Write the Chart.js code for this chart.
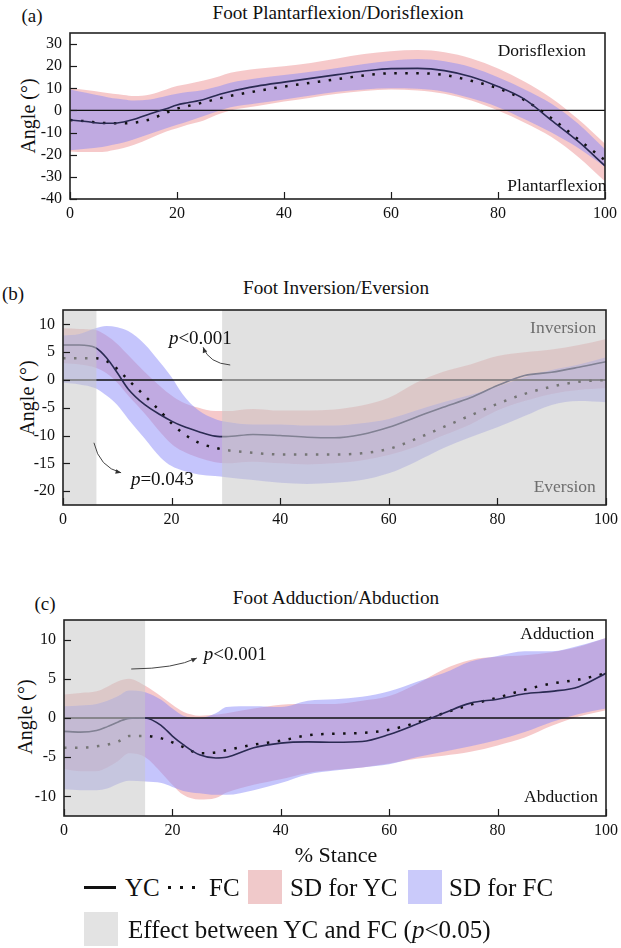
<!DOCTYPE html>
<html><head><meta charset="utf-8">
<script src="https://cdn.jsdelivr.net/npm/chart.js@4.4.0/dist/chart.umd.min.js"></script>
<style>
body{margin:0;background:#fff;width:621px;height:948px;position:relative;overflow:hidden;font-family:"Liberation Serif","Times New Roman",Times,Tinos,"DejaVu Serif","Noto Serif",serif;color:#111;}
canvas{position:absolute;left:0;}
.t{position:absolute;white-space:nowrap;transform:translate(-50%,-50%);line-height:1;}
.title{font-size:19.2px;}
.plab{font-size:19px;}
.ylab{font-size:20px;transform:translate(-50%,-50%) rotate(-90deg);}
.lg{position:absolute;white-space:nowrap;font-size:25px;line-height:1;transform:translateY(-50%);}
.sq{position:absolute;width:34px;height:34px;}
.dot{position:absolute;width:2.5px;height:2.5px;background:#111;}
</style></head><body>

<div class="t plab" style="left:32px;top:15px">(a)</div>
<div class="t title" style="left:338px;top:13px">Foot Plantarflexion/Dorisflexion</div>
<div class="t ylab" style="left:28px;top:116px">Angle (°)</div>
<canvas id="ca" width="621" height="226" style="top:0px"></canvas>

<div class="t plab" style="left:13px;top:293px">(b)</div>
<div class="t title" style="left:336px;top:288px">Foot Inversion/Eversion</div>
<div class="t ylab" style="left:27px;top:398px">Angle (°)</div>
<canvas id="cb" width="621" height="245" style="top:290px"></canvas>

<div class="t plab" style="left:45px;top:603px">(c)</div>
<div class="t title" style="left:336px;top:598px">Foot Adduction/Abduction</div>
<div class="t ylab" style="left:25px;top:717px">Angle (°)</div>
<canvas id="cc" width="621" height="245" style="top:600px"></canvas>
<div class="t" style="left:336px;top:855px;font-size:22px">% Stance</div>

<div style="position:absolute;left:84px;top:886px;width:32px;height:2.5px;background:#111"></div>
<div class="lg" style="left:125px;top:887px">YC</div>
<div class="dot" style="left:168px;top:886px"></div>
<div class="dot" style="left:180px;top:886px"></div>
<div class="dot" style="left:192px;top:886px"></div>
<div class="lg" style="left:209px;top:887px">FC</div>
<div class="sq" style="left:248px;top:870px;background:#f0c9ca"></div>
<div class="lg" style="left:290px;top:887px">SD for YC</div>
<div class="sq" style="left:408px;top:870px;background:#cacafa"></div>
<div class="lg" style="left:449px;top:887px">SD for FC</div>
<div class="sq" style="left:84px;top:912px;background:#e3e3e3"></div>
<div class="lg" style="left:128px;top:929px">Effect between YC and FC (<i>p</i>&lt;0.05)</div>

<script>
// ---------- DATA ----------
const stance = [0,3,6,8,10,12,15,18,20,22,25,28,30,35,40,45,50,55,60,65,70,75,80,85,90,95,100];
const xTickValues = [0,20,40,60,80,100];

// (a) Plantarflexion / Dorsiflexion
const dfYC      = [-4.3,-5,-5.8,-5.8,-5.2,-4,-1.5,0.8,2.5,3.5,5,7.3,8.6,11,12.8,14.5,16.2,17.8,18.9,19,18,15.2,10.8,5,-4.5,-14,-25];
const dfFC      = [-4.3,-4.9,-5.6,-5.8,-5.8,-5.5,-4,-1,0.8,2,3.7,5.5,6.6,8.8,10.8,12.5,14.2,15.8,16.8,16.8,16,13.4,10,4.6,-3.5,-13,-22.5];
const dfYCUpper = [10,9.2,8.2,7.5,7,6.5,7.2,9.5,11,12,13.5,15.5,17,18.8,20,21.5,23.5,25.5,26.8,27.3,26.3,23.5,19,13,5.5,-4,-15];
const dfYCLower = [-18.5,-18.8,-18.8,-18,-17,-15.5,-12.5,-9.5,-8,-6.5,-4.5,-1.5,0,2,4,5.8,7.5,8.8,9.5,9,7.5,4.5,0,-5.5,-12,-21,-32];
const dfFCUpper = [9.5,8,6.5,5.5,5,4.5,5,6.5,7.5,8.3,9.3,11,12.5,14.5,16,17.5,19.2,21,22.5,23.2,22.2,19.5,15,9.5,3,-6,-17.5];
const dfFCLower = [-18,-17.3,-16.5,-15.5,-14.5,-13,-10.5,-8,-6.5,-5,-2.5,0,1.5,3.3,5,6.8,8.5,9.5,10,9.8,8.5,5.5,1.5,-4,-10,-17,-25.5];
const dfTicks = [-40,-30,-20,-10,0,10,20,30];
const dfRange = [-40,35];

// (b) Inversion / Eversion
const ieYC      = [6.3,6.3,5.8,4,1.3,-1.6,-4.4,-6.3,-7.4,-8.3,-9.3,-10.1,-10.2,-9.8,-10,-10.3,-10.4,-9.8,-8.5,-6.7,-4.9,-3.2,-1,0.8,1.4,2.3,3.3];
const ieFC      = [3.9,3.9,3.9,3.4,2,0,-2.8,-5.7,-7.8,-9.5,-11.3,-12.2,-12.6,-13.1,-13.4,-13.4,-13.4,-13.2,-12.4,-10.6,-8.5,-6.4,-4.3,-2.5,-1.2,-0.3,0];
const ieYCUpper = [9.3,9.2,9,8,6.5,4.5,1.5,-1.2,-2.8,-4,-5,-5.6,-5.6,-5.2,-5.5,-5.5,-5.3,-4.6,-3.2,-0.5,1.5,2.8,4.3,5,5.5,6.3,7.4];
const ieYCLower = [3,2.8,2.2,1.2,-0.5,-2.8,-6,-9.5,-11.5,-12.8,-14,-14.8,-15,-14.7,-15,-15.2,-15,-14.5,-13.5,-12,-10,-8,-5.5,-3.8,-2.5,-1.8,-1.5];
const ieFCUpper = [8,8.3,9.3,9.7,9.5,8.8,6.5,3,0.5,-2.5,-5.5,-7,-7.5,-8,-8,-8.2,-8.2,-7.8,-7,-5.5,-4,-2.7,-1.2,0.5,1.8,2.8,4.1];
const ieFCLower = [-0.5,-0.8,-1.5,-2.8,-4.5,-7,-10.5,-14,-15.5,-16.3,-17,-17.3,-17.5,-18,-18.5,-18.7,-18.5,-18,-16.8,-14.7,-12.3,-10.3,-8.5,-6.5,-4.5,-3.8,-4];
const ieTicks = [-20,-15,-10,-5,0,5,10];
const ieRange = [-22.5,12.6];
const ieSignificant = [[0,6.2],[29.3,100]];

// (c) Adduction / Abduction
const aaYC      = [-1.7,-1.8,-1.6,-1.1,-0.5,-0.05,0,-1,-2.3,-3.4,-4.7,-5.1,-5,-3.8,-3.2,-3.05,-3.1,-3,-2.1,-0.8,0.6,1.9,2.4,3.1,3.4,4,5.7];
const aaFC      = [-3.8,-3.8,-3.6,-3.4,-3,-2.3,-2.3,-2.6,-3.1,-3.7,-4.5,-4.4,-4.1,-3.4,-2.9,-2.2,-2,-1.9,-1.5,-0.6,0.6,1.7,2.6,3.6,4.4,4.9,5.7];
const aaYCUpper = [3,3.2,3.4,4,4.7,5,4.1,2.7,1.7,0.8,0.3,0.4,0.6,1.2,1.7,1.8,1.8,2.2,2.8,4.3,6.2,7.4,7.8,8,8.4,9.1,10.2];
const aaYCLower = [-6.5,-6.8,-6.8,-6.3,-5.5,-4.5,-5,-7,-8.5,-9.8,-10.4,-10.2,-9.5,-8.5,-7.8,-7,-6.6,-6.3,-5.8,-5.2,-4.8,-4.3,-3.5,-2.5,-1,0.2,1];
const aaFCUpper = [1.5,1.6,1.8,2.2,2.8,3.5,3.3,2.3,1.2,0.3,0,0.6,1.4,1.5,1.4,2.2,2.4,2.7,3.4,4.6,5.7,7.2,7.9,8.5,8.5,9.2,10.2];
const aaFCLower = [-9.1,-9.2,-9.2,-9,-8.4,-8,-8.1,-8.3,-8.8,-9.3,-9.6,-9.8,-9.8,-9.2,-8.3,-7.2,-6.7,-6.3,-5.9,-5,-4.3,-3.6,-2.8,-1.8,-0.5,0.5,1.2];
const aaTicks = [-10,-5,0,5,10];
const aaRange = [-12.5,12.5];
const aaSignificant = [[0,15]];

// ---------- STYLE ----------
const FONT = '"Liberation Serif", "Times New Roman", Times, Tinos, "DejaVu Serif", serif';
const PINK = 'rgba(238,148,150,0.5)';
const BLUE = 'rgba(140,140,250,0.5)';
const SIG  = 'rgba(200,200,200,0.55)';

function pts(xs, ys){ return xs.map((x,i)=>({x:x, y:ys[i]})); }

const deco = {
  id:'deco',
  afterDraw(chart, args, o){
    const ctx = chart.ctx, a = chart.chartArea, x = chart.scales.x, y = chart.scales.y;
    ctx.save();
    ctx.strokeStyle = '#1a1a1a'; ctx.lineWidth = 1.2;
    x.ticks.forEach(t=>{ const px = Math.round(x.getPixelForValue(t.value))+0.5;
      ctx.beginPath(); ctx.moveTo(px,a.bottom); ctx.lineTo(px,a.bottom-7); ctx.stroke(); });
    y.ticks.forEach(t=>{ const py = Math.round(y.getPixelForValue(t.value))+0.5;
      ctx.beginPath(); ctx.moveTo(a.left,py); ctx.lineTo(a.left+7,py); ctx.stroke(); });
    ctx.lineWidth = 1.6; ctx.strokeStyle = '#222';
    ctx.strokeRect(a.left, a.top, a.right-a.left, a.bottom-a.top);
    (o.labels||[]).forEach(l=>{
      const px = x.getPixelForValue(l.x), py = y.getPixelForValue(l.y);
      ctx.fillStyle = l.color || '#111'; ctx.textBaseline = 'middle';
      if (l.parts){
        let cx = px;
        l.parts.forEach(p=>{ ctx.font = (p[1]==='i'?'italic ':'') + l.size+'px '+FONT;
          ctx.textAlign='left'; ctx.fillText(p[0], cx, py); cx += ctx.measureText(p[0]).width; });
      } else {
        ctx.font = l.size+'px '+FONT; ctx.textAlign = 'center'; ctx.fillText(l.text, px, py);
      }
    });
    (o.arrows||[]).forEach(ar=>{
      const f=[x.getPixelForValue(ar.from[0]), y.getPixelForValue(ar.from[1])];
      const c=[x.getPixelForValue(ar.ctrl[0]), y.getPixelForValue(ar.ctrl[1])];
      const h=[x.getPixelForValue(ar.to[0]), y.getPixelForValue(ar.to[1])];
      ctx.strokeStyle='#444'; ctx.fillStyle='#333'; ctx.lineWidth=1;
      ctx.beginPath(); ctx.moveTo(f[0],f[1]); ctx.quadraticCurveTo(c[0],c[1],h[0],h[1]); ctx.stroke();
      const ang = Math.atan2(h[1]-c[1], h[0]-c[0]);
      ctx.beginPath(); ctx.moveTo(h[0],h[1]);
      ctx.lineTo(h[0]-6*Math.cos(ang-0.4), h[1]-6*Math.sin(ang-0.4));
      ctx.lineTo(h[0]-6*Math.cos(ang+0.4), h[1]-6*Math.sin(ang+0.4));
      ctx.closePath(); ctx.fill();
    });
    ctx.restore();
  }
};

function buildPanel(id, d){
  const top = d.range[1];
  const ds = [];
  (d.sig||[]).forEach(s=>ds.push({data:[{x:s[0],y:top},{x:s[1],y:top}], fill:'start', backgroundColor:SIG,
      borderWidth:0, pointRadius:0, order:0}));
  ds.push({data:pts(stance,d.yc), borderColor:'#2a2a52', borderWidth:1.6, pointRadius:0, fill:false, cubicInterpolationMode:'monotone', order:1});
  ds.push({data:pts(stance,d.fc), borderColor:'#111', borderWidth:2.5, borderDash:[2.5,8.5], pointRadius:0, fill:false, cubicInterpolationMode:'monotone', order:2});
  ds.push({data:[{x:0,y:0},{x:100,y:0}], borderColor:'#111', borderWidth:1.3, pointRadius:0, fill:false, order:3});
  ds.push({data:pts(stance,d.ycU), borderWidth:0, pointRadius:0, fill:'+1', backgroundColor:PINK, cubicInterpolationMode:'monotone', order:7});
  ds.push({data:pts(stance,d.ycL), borderWidth:0, pointRadius:0, fill:false, cubicInterpolationMode:'monotone', order:8});
  ds.push({data:pts(stance,d.fcU), borderWidth:0, pointRadius:0, fill:'+1', backgroundColor:BLUE, cubicInterpolationMode:'monotone', order:5});
  ds.push({data:pts(stance,d.fcL), borderWidth:0, pointRadius:0, fill:false, cubicInterpolationMode:'monotone', order:6});

  return new Chart(document.getElementById(id), {
    type:'line',
    data:{datasets:ds},
    plugins:[deco],
    options:{
      responsive:false, animation:false, devicePixelRatio:1,
      layout:{padding:{left:0, right:d.pr, top:d.pt, bottom:0}},
      plugins:{legend:{display:false}, tooltip:{enabled:false}, deco:{labels:d.labels, arrows:d.arrows}},
      elements:{line:{tension:0}},
      scales:{
        x:{type:'linear', min:0, max:100,
           afterBuildTicks:s=>{ s.ticks = xTickValues.map(v=>({value:v})); },
           afterFit:s=>{ s.height = d.xh; s.paddingLeft=0; s.paddingRight=0; },
           grid:{display:false, drawTicks:false}, border:{display:false},
           ticks:{padding:5, color:'#111', font:{family:FONT,size:16}, maxRotation:0, autoSkip:false}},
        y:{type:'linear', min:d.range[0], max:d.range[1],
           afterBuildTicks:s=>{ s.ticks = d.ticks.map(v=>({value:v})); },
           afterFit:s=>{ s.width = d.yw; s.paddingTop=0; s.paddingBottom=0; },
           grid:{display:false, drawTicks:false}, border:{display:false},
           ticks:{padding:8, color:'#111', font:{family:FONT,size:16}, autoSkip:false}}
      }
    }
  });
}

buildPanel('ca', {yc:dfYC, fc:dfFC, ycU:dfYCUpper, ycL:dfYCLower, fcU:dfFCUpper, fcL:dfFCLower,
  range:dfRange, ticks:dfTicks, pr:16, pt:33, xh:27, yw:70,
  labels:[{text:'Dorisflexion', x:88.2, y:26.5, size:17.5},{text:'Plantarflexion', x:91, y:-34.5, size:17.5}]});

buildPanel('cb', {yc:ieYC, fc:ieFC, ycU:ieYCUpper, ycL:ieYCLower, fcU:ieFCUpper, fcL:ieFCLower,
  range:ieRange, ticks:ieTicks, sig:ieSignificant, pr:15, pt:20, xh:30, yw:63,
  labels:[{text:'Inversion', x:92.1, y:9.2, size:17.5, color:'#6e6e6e'},
          {text:'Eversion', x:92.4, y:-19.4, size:17.5, color:'#6e6e6e'},
          {parts:[['p','i'],['<0.001','n']], x:19.5, y:7.4, size:19},
          {parts:[['p','i'],['=0.043','n']], x:12.5, y:-18, size:19}],
  arrows:[{from:[30.8,2.7], ctrl:[26.9,3.0], to:[25.8,5.9]},
          {from:[5.7,-11.3], ctrl:[6.7,-15.7], to:[10.7,-16.7]}]});

buildPanel('cc', {yc:aaYC, fc:aaFC, ycU:aaYCUpper, ycL:aaYCLower, fcU:aaFCUpper, fcL:aaFCLower,
  range:aaRange, ticks:aaTicks, sig:aaSignificant, pr:15, pt:20, xh:29, yw:64,
  labels:[{text:'Adduction', x:91, y:10.6, size:17.5},{text:'Abduction', x:91.7, y:-10.1, size:17.5},
          {parts:[['p','i'],['<0.001','n']], x:25.8, y:8.0, size:19}],
  arrows:[{from:[12.4,6.25], ctrl:[20.5,6.3], to:[24.5,7.65]}]});
</script>
</body></html>
